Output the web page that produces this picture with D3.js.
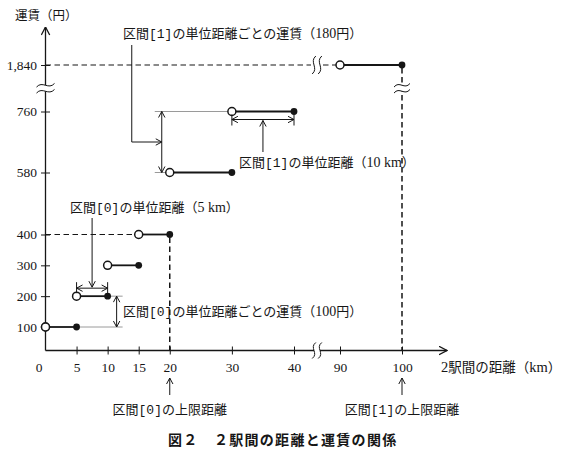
<!DOCTYPE html>
<html><head><meta charset="utf-8">
<script src="https://cdn.jsdelivr.net/npm/d3@7"></script>
<style>body{margin:0;background:#fff}</style>
</head><body>
<svg id="c" width="564" height="457"></svg>
<script>
// ---- data ----
const xTickValues = [0, 5, 10, 15, 20, 30, 40, 90, 100];
const yTickValues = [100, 200, 300, 400, 580, 760, 1840];
const yTickLabels = ["100", "200", "300", "400", "580", "760", "1,840"];
const stepStart = [0, 5, 10, 15, 20, 30, 90];
const stepEnd   = [5, 10, 15, 20, 30, 40, 100];
const stepFare  = [100, 200, 300, 400, 580, 760, 1840];
const upperLimitKm = [20, 100];
const upperLimitIdx = ["0", "1"];

const svg = d3.select("#c");
const INK = "#161616";
const GRAY = "#9a9a9a";
const JP = "'Noto Sans CJK JP', sans-serif";
const SERIF = "'Liberation Serif', 'Noto Sans CJK JP', serif";
const MONO = "'Liberation Mono', monospace";

const x = d3.scaleLinear().domain([0, 40, 90, 100]).range([45.5, 294, 340, 402]);
const y = d3.scaleLinear().domain([0, 100, 400, 580, 760, 1840]).range([350.5, 327, 234.5, 172.5, 111.5, 65]);
const xBreak = (x(40) + x(90)) / 2;
const yBreak = (y(760) + y(1840)) / 2;
const x0 = x(0), y0 = y(0);

// ---- markers ----
const defs = svg.append("defs");
defs.append("marker").attr("id", "ah").attr("viewBox", "0 0 7 8")
  .attr("refX", 6.5).attr("refY", 4).attr("markerWidth", 7).attr("markerHeight", 8)
  .attr("markerUnits", "userSpaceOnUse").attr("orient", "auto-start-reverse")
  .append("path").attr("d", "M0.5,0.8 L6.5,4 L0.5,7.2").attr("fill", "none")
  .attr("stroke", INK).attr("stroke-width", 1);
defs.append("marker").attr("id", "axh").attr("viewBox", "0 0 9 10")
  .attr("refX", 8.5).attr("refY", 5).attr("markerWidth", 9).attr("markerHeight", 10)
  .attr("markerUnits", "userSpaceOnUse").attr("orient", "auto")
  .append("path").attr("d", "M0.5,0.8 L8.5,5 L0.5,9.2").attr("fill", "none")
  .attr("stroke", INK).attr("stroke-width", 1.3);

function line(x1, y1, x2, y2, opt = {}) {
  const l = svg.append("line").attr("x1", x1).attr("y1", y1).attr("x2", x2).attr("y2", y2)
    .attr("stroke", opt.color || INK).attr("stroke-width", opt.w || 1);
  if (opt.dash) l.attr("stroke-dasharray", opt.dash);
  if (opt.start) l.attr("marker-start", "url(#" + opt.start + ")");
  if (opt.end) l.attr("marker-end", "url(#" + opt.end + ")");
  return l;
}
function hWaves(cx, cy, halfW) {
  svg.append("rect").attr("x", cx - halfW).attr("y", cy - 3).attr("width", halfW * 2).attr("height", 6).attr("fill", "#fff");
  [-3, 3].forEach(o => {
    svg.append("path").attr("d", `M${cx - halfW},${cy + o + 1.8} C${cx - halfW / 3},${cy + o - 5} ${cx + halfW / 3},${cy + o + 5} ${cx + halfW},${cy + o - 1.8}`)
      .attr("fill", "none").attr("stroke", INK).attr("stroke-width", 1);
  });
}
function vWaves(cx, cy, halfH) {
  svg.append("rect").attr("x", cx - 3).attr("y", cy - 3).attr("width", 6).attr("height", 6).attr("fill", "#fff");
  [-3, 3].forEach(o => {
    svg.append("path").attr("d", `M${cx + o + 1.8},${cy - halfH} C${cx + o - 5},${cy - halfH / 3} ${cx + o + 5},${cy + halfH / 3} ${cx + o - 1.8},${cy + halfH}`)
      .attr("fill", "none").attr("stroke", INK).attr("stroke-width", 1);
  });
}
function rich(xp, yc, parts, size, anchor = "start") {
  const t = svg.append("text").attr("x", xp).attr("y", yc + size * 0.36)
    .attr("font-size", size).attr("fill", INK).attr("text-anchor", anchor);
  parts.forEach(p => {
    const s = t.append("tspan").attr("font-family", p[1]).text(p[0]);
    if (p[1] === SERIF) s.attr("font-size", size + 1);
  });
  return t;
}

// ---- dashed guide lines ----
line(x0, y(1840), xBreak - 6, y(1840), { dash: "5.5,3.5", w: 1.2 });
line(xBreak + 6, y(1840), x(90) - 4, y(1840), { dash: "5.5,3.5", w: 1.2 });
vWaves(xBreak, y(1840), 9);
line(x(100), y(1840) + 3, x(100), y0, { dash: "5.5,3.5", w: 1.5 });
hWaves(x(100), yBreak, 8);
line(x0, y(400), x(15) - 4, y(400), { dash: "5.5,3.5", w: 1.2 });
line(x(20), y(400) + 3, x(20), y0, { dash: "5.5,3.5", w: 1.5 });

// ---- gray extension lines ----
line(x(20) - 15, y(760), x(30) - 4, y(760), { color: GRAY });
line(x(20) - 15, y(580), x(20) - 4, y(580), { color: GRAY });
line(x(10), y(200), x(10) + 15, y(200), { color: GRAY });
line(x(5), y(100), x(10) + 15, y(100), { color: GRAY });

// ---- step segments ----
const steps = stepFare.map((f, i) => ({ a: stepStart[i], b: stepEnd[i], f }));
svg.selectAll("line.seg").data(steps).enter().append("line").attr("class", "seg")
  .attr("x1", d => x(d.a)).attr("x2", d => x(d.b)).attr("y1", d => y(d.f)).attr("y2", d => y(d.f))
  .attr("stroke", INK).attr("stroke-width", 1.8);
svg.selectAll("circle.open").data(steps).enter().append("circle").attr("class", "open")
  .attr("cx", d => x(d.a)).attr("cy", d => y(d.f)).attr("r", 4)
  .attr("fill", "#fff").attr("stroke", INK).attr("stroke-width", 1.5);
svg.selectAll("circle.closed").data(steps).enter().append("circle").attr("class", "closed")
  .attr("cx", d => x(d.b)).attr("cy", d => y(d.f)).attr("r", 3.4).attr("fill", INK);

// ---- dimension annotations ----
// 区間[1] fare step (180円)
const dx1 = x(20) - 8;
line(dx1, y(760), dx1, y(580), { start: "ah", end: "ah" });
line(x(20) - 38, 45, x(20) - 38, (y(760) + y(580)) / 2);
line(x(20) - 38, (y(760) + y(580)) / 2, dx1, (y(760) + y(580)) / 2, { end: "ah" });
rich(123, 33, [["区間", JP], ["[1]", MONO], ["の単位距離ごとの運賃（", JP], ["180", SERIF], ["円）", JP]], 13);
// 区間[1] unit distance (10 km)
const dy1 = y(760) + 8;
line(x(30), y(760) + 3, x(30), y(760) + 14);
line(x(40), y(760) + 3, x(40), y(760) + 14);
line(x(30), dy1, x(40), dy1, { start: "ah", end: "ah" });
line((x(30) + x(40)) / 2, 152, (x(30) + x(40)) / 2, dy1 + 1, { end: "ah" });
rich(239, 162, [["区間", JP], ["[1]", MONO], ["の単位距離（", JP], ["10 km", SERIF], ["）", JP]], 13);
// 区間[0] unit distance (5 km)
const dy0 = y(200) - 8;
line(x(5), y(200) - 14, x(5), y(200) - 3);
line(x(10), y(200) - 14, x(10), y(200) - 3);
line(x(5), dy0, x(10), dy0, { start: "ah", end: "ah" });
line((x(5) + x(10)) / 2, 218, (x(5) + x(10)) / 2, dy0 - 1, { end: "ah" });
rich(70, 207, [["区間", JP], ["[0]", MONO], ["の単位距離（", JP], ["5 km", SERIF], ["）", JP]], 13);
// 区間[0] fare step (100円)
const dx0 = x(10) + 9;
line(dx0, y(200), dx0, y(100), { start: "ah", end: "ah" });
rich(123, 311, [["区間", JP], ["[0]", MONO], ["の単位距離ごとの運賃（", JP], ["100", SERIF], ["円）", JP]], 13);
// upper limits
upperLimitKm.forEach((km, i) => {
  line(x(km), 395, x(km), 378, { end: "ah" });
  rich(x(km), 409, [["区間", JP], ["[" + upperLimitIdx[i] + "]", MONO], ["の上限距離", JP]], 13, "middle");
});

// ---- axes ----
const yAxis = d3.axisLeft(y).tickValues(yTickValues).tickFormat((d, i) => yTickLabels[i])
  .tickSize(4.5).tickPadding(4);
const gy = svg.append("g").attr("transform", `translate(${x0},0)`).call(yAxis);
gy.select(".domain").remove();
gy.selectAll(".tick line").attr("x1", 4.5).attr("stroke", INK);
gy.selectAll("text").attr("font-family", SERIF).attr("font-size", 13.5).attr("fill", INK);

const xAxis = d3.axisBottom(x).tickValues(xTickValues).tickSize(4).tickPadding(8);
const gx = svg.append("g").attr("transform", `translate(0,${y0})`).call(xAxis);
gx.select(".domain").remove();
gx.selectAll(".tick line").attr("y1", -4).attr("stroke", INK).filter(d => d === 0).remove();
gx.selectAll("text").attr("font-family", SERIF).attr("font-size", 13.5).attr("fill", INK)
  .filter(d => d === 0).attr("x", -7);

line(x0, y0, x0, 27, { w: 1.3, end: "axh" });
line(x0, y0, 447, y0, { w: 1.3, end: "axh" });
hWaves(x0, yBreak, 9);
vWaves(xBreak, y0, 8);

// re-draw the circle at origin on top of axis
svg.append("circle").attr("cx", x(0)).attr("cy", y(100)).attr("r", 4)
  .attr("fill", "#fff").attr("stroke", INK).attr("stroke-width", 1.5);

// ---- titles ----
rich(15, 15, [["運賃（円）", JP]], 12.5);
rich(441, 367, [["2", SERIF], ["駅間の距離（", JP], ["km", SERIF], ["）", JP]], 13.5);
svg.append("text").attr("x", 168).attr("y", 445).attr("font-family", JP).attr("font-weight", "bold")
  .attr("font-size", 14).attr("letter-spacing", 1.3).attr("fill", INK).text("図２　２駅間の距離と運賃の関係");
</script>
</body></html>
